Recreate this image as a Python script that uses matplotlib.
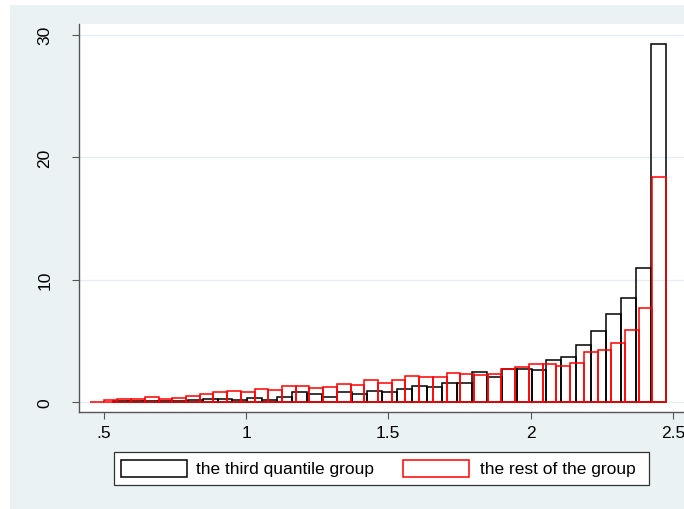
import numpy as np
import matplotlib
matplotlib.use("Agg")
import matplotlib.pyplot as plt
from matplotlib.patches import Rectangle

plt.rcParams['font.family'] = ['Liberation Sans', 'DejaVu Sans']

# percent per bin
third_range = (0.532, 2.4765)
third_pct = [0.08, 0.10, 0.10, 0.12, 0.12, 0.15, 0.25, 0.25,
             0.15, 0.38, 0.20, 0.43, 0.80, 0.65, 0.43, 0.87, 0.68, 0.92,
             0.80, 1.06, 1.33, 1.28, 1.55, 1.55, 2.48, 2.10, 2.75, 2.75,
             2.65, 3.46, 3.73, 4.66, 5.80, 7.20, 8.48, 10.93, 29.25]

rest_range = (0.4515, 2.4765)
rest_pct = [0.05, 0.20, 0.25, 0.30, 0.40, 0.30, 0.35, 0.55, 0.70, 0.80,
            0.90, 0.80, 1.10, 1.00, 1.33, 1.33, 1.15, 1.25, 1.50, 1.45,
            1.85, 1.55, 1.85, 2.15, 2.05, 2.10, 2.40, 2.30, 2.25, 2.30,
            2.70, 2.90, 3.10, 3.15, 3.00, 3.20, 4.10, 4.30, 4.80, 5.90,
            7.70, 18.40]

xticks = [0.5, 1, 1.5, 2, 2.5]
xticklabels = ['.5', '1', '1.5', '2', '2.5']
yticks = [0, 10, 20, 30]
labels = ['the third quantile group', 'the rest of the group']

W, H = 684, 510
bg = '#EAF2F3'
fig = plt.figure(figsize=(W / 100, H / 100), dpi=100)
fig.patch.set_facecolor('white')
fig.patches.append(Rectangle((10 / W, 0), 1, 1 - 6 / H, transform=fig.transFigure,
                             facecolor=bg, edgecolor='none', zorder=-10))

left, right, top, bottom = 78.7, 690, 24.7, 413.3
ax = fig.add_axes([left / W, 1 - bottom / H, (right - left) / W, (bottom - top) / H])
ax.set_facecolor('white')

def draw(rng, pct, color):
    edges = np.linspace(rng[0], rng[1], len(pct) + 1)
    w = edges[1] - edges[0]
    ax.bar(edges[:-1], pct, width=w, align='edge', fill=False,
           edgecolor=color, linewidth=1.1, zorder=3)

draw(third_range, third_pct, 'black')
draw(rest_range, rest_pct, '#FF0000')

ax.set_xlim(0.412, 2.5605)
ax.set_ylim(-0.816, 30.9)
ax.set_xticks(xticks)
ax.set_xticklabels(xticklabels)
ax.set_yticks(yticks)
ax.set_yticklabels([str(v) for v in yticks], rotation=90, va='center')
ax.grid(axis='y', color='#E6EEF1', linewidth=1.0, zorder=0)
ax.set_axisbelow(True)
for s in ['top', 'right']:
    ax.spines[s].set_visible(False)
for s in ['left', 'bottom']:
    ax.spines[s].set_color('#555555')
    ax.spines[s].set_linewidth(1.0)
ax.tick_params(axis='both', direction='out', length=5, width=0.8, color='#555555',
               labelsize=12.5, labelcolor='black')
ax.tick_params(axis='y', pad=14)
ax.tick_params(axis='x', pad=4)

# legend, drawn in pixel coordinates
def px(x, y):
    return x / W, 1 - y / H

lx0, ly0, lx1, ly1 = 113.5, 453.3, 649, 486
fig.patches.append(Rectangle(px(lx0, ly1), (lx1 - lx0) / W, (ly1 - ly0) / H,
                             transform=fig.transFigure, facecolor='white',
                             edgecolor='#333333', linewidth=0.9))
keys = [(120.5, 186.5, 196, 'black'), (403.4, 469, 480, '#FF0000')]
for (k0, k1, tx, col), lab in zip(keys, labels):
    fig.patches.append(Rectangle(px(k0, 478.3), (k1 - k0) / W, (478.3 - 460.7) / H,
                                 transform=fig.transFigure, facecolor='white',
                                 edgecolor=col, linewidth=1.1))
    fig.text(*px(tx, 469.5), lab, fontsize=12.5, va='center', ha='left')

fig.savefig('out.png', dpi=100, facecolor=fig.get_facecolor())
